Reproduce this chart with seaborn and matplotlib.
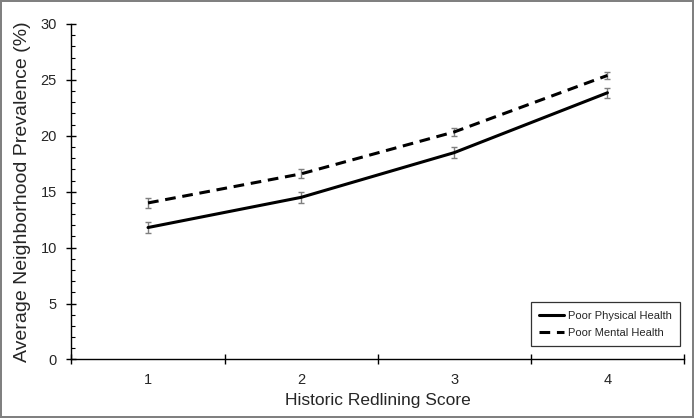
import numpy as np
import pandas as pd
import matplotlib
matplotlib.use("Agg")
import matplotlib.pyplot as plt
import seaborn as sns
from matplotlib.ticker import FixedLocator, MultipleLocator

# Data
scores = [1, 2, 3, 4]
physical = [11.8, 14.5, 18.5, 23.85]
physical_err = [0.5, 0.48, 0.48, 0.45]
mental = [14.0, 16.6, 20.35, 25.4]
mental_err = [0.43, 0.4, 0.39, 0.35]
series_names = ["Poor Physical Health", "Poor Mental Health"]

df = pd.DataFrame({
    "score": scores * 2,
    "value": physical + mental,
    "series": [series_names[0]] * 4 + [series_names[1]] * 4,
})

sns.set_style("white")
plt.rcParams["font.family"] = ["Liberation Sans", "DejaVu Sans"]

fig = plt.figure(figsize=(6.94, 4.18), dpi=100)
fig.patch.set_edgecolor("#808080")
fig.patch.set_linewidth(1.5)
ax = fig.add_axes([0.103, 0.14, 0.8826, 0.8026])

sns.lineplot(data=df, x="score", y="value", style="series",
             dashes={series_names[0]: "", series_names[1]: (3.5, 2.2)},
             color="black", linewidth=2.2, ax=ax, legend=True)

# error bars
ax.errorbar(scores, physical, yerr=physical_err, fmt="none", ecolor="#7f7f7f",
            elinewidth=1, capsize=2, capthick=1, zorder=1)
ax.errorbar(scores, mental, yerr=mental_err, fmt="none", ecolor="#7f7f7f",
            elinewidth=1, capsize=2, capthick=1, zorder=1)

ax.set_xlim(0.5, 4.5)
ax.set_ylim(0, 30)

# category axis: ticks between categories, labels at centres
ax.xaxis.set_major_locator(FixedLocator([0.5, 1.5, 2.5, 3.5, 4.5]))
ax.xaxis.set_minor_locator(FixedLocator(scores))
ax.xaxis.set_major_formatter(plt.NullFormatter())
ax.xaxis.set_minor_formatter(plt.FixedFormatter([str(s) for s in scores]))
ax.tick_params(axis="x", which="major", direction="inout", length=7, width=1,
               color="black", bottom=True)
ax.tick_params(axis="x", which="minor", length=0, labelsize=10.5, pad=10)

ax.yaxis.set_major_locator(MultipleLocator(5))
ax.yaxis.set_minor_locator(MultipleLocator(1))
ax.tick_params(axis="y", which="major", direction="inout", length=7, width=1,
               color="black", left=True, labelsize=10.5, pad=7)
ax.tick_params(axis="y", which="minor", direction="in", length=3, width=0.8,
               color="black", left=True)

for side in ["top", "right"]:
    ax.spines[side].set_visible(False)
for side in ["left", "bottom"]:
    ax.spines[side].set_color("black")
    ax.spines[side].set_linewidth(1)

ax.set_xlabel("Historic Redlining Score", fontsize=12.5, labelpad=4)
ax.set_ylabel("Average Neighborhood Prevalence (%)", fontsize=14, labelpad=7)

leg = ax.legend(loc="lower right", bbox_to_anchor=(0.9935, 0.04), fontsize=8,
                frameon=True, fancybox=False, edgecolor="black", handlelength=2.3,
                handletextpad=0.3, borderpad=0.75, labelspacing=0.65,
                borderaxespad=0)
leg.get_frame().set_linewidth(0.9)
for line in leg.get_lines():
    line.set_linewidth(2.2)

fig.savefig("out.png", dpi=100, edgecolor=fig.get_edgecolor())
